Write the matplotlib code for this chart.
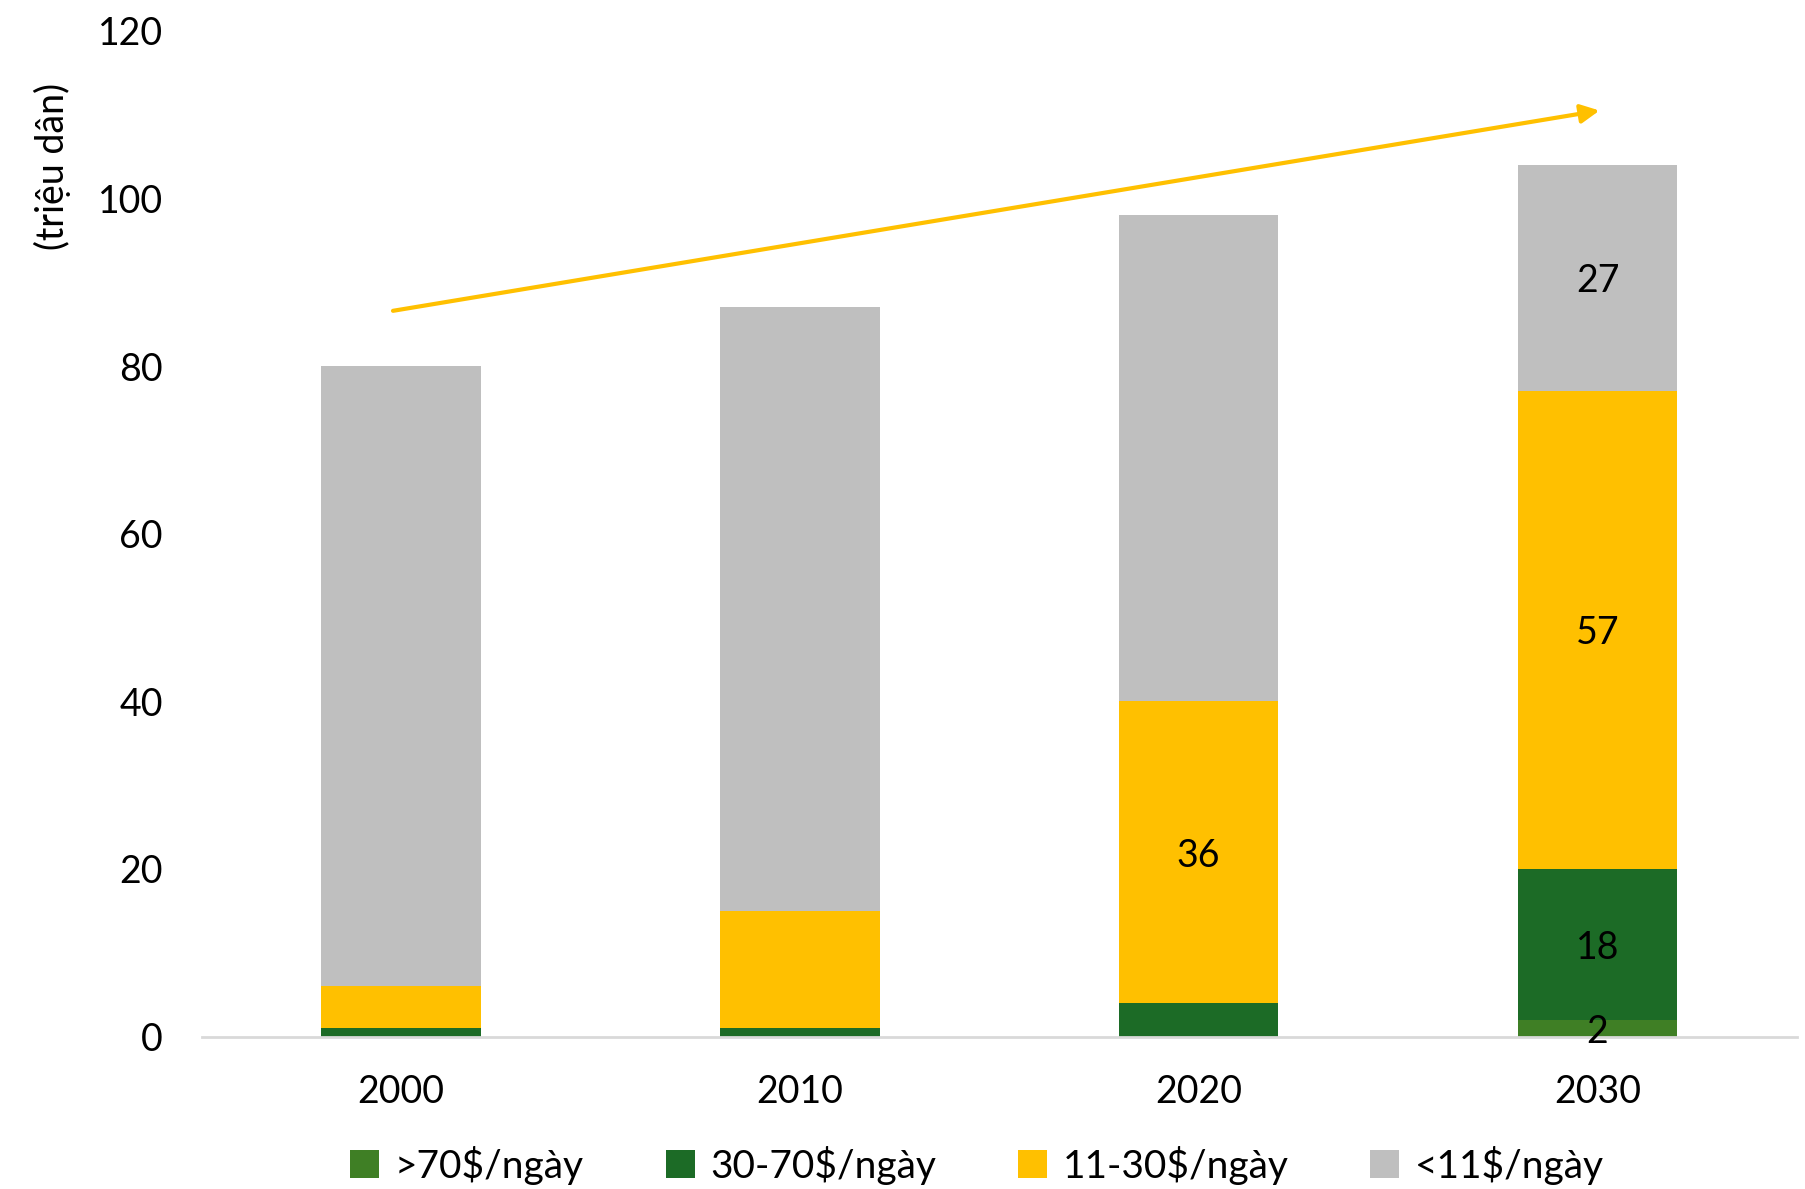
import matplotlib
matplotlib.use("Agg")
import matplotlib.pyplot as plt
from matplotlib.patches import Patch
import numpy as np

plt.rcParams['font.family'] = ['Lato', 'DejaVu Sans']

years = ["2000", "2010", "2020", "2030"]
series_names = [">70$/ngày", "30-70$/ngày", "11-30$/ngày", "<11$/ngày"]
above_70 = [0, 0, 0, 2]
from_30_to_70 = [1, 1, 4, 18]
from_11_to_30 = [5, 14, 36, 57]
below_11 = [74, 72, 58, 27]
colors = ["#3f7f25", "#1c6b26", "#ffc000", "#bfbfbf"]

# which segments carry a value label (only 2020 middle class and all of 2030)
label_mask = [
    [False, False, False, True],
    [False, False, False, True],
    [False, False, True, True],
    [False, False, False, True],
]

fig = plt.figure(figsize=(18.06, 11.89), dpi=100)
ax = fig.add_axes([0.1116, 0.1282, 0.8834, 0.8458])

x = np.arange(len(years))
width = 0.40
bottom = np.zeros(len(years))
series = [above_70, from_30_to_70, from_11_to_30, below_11]
for s_idx, (vals, col) in enumerate(zip(series, colors)):
    vals = np.array(vals, dtype=float)
    ax.bar(x, vals, width, bottom=bottom, color=col, edgecolor="none", zorder=2)
    for i in range(len(years)):
        if label_mask[s_idx][i] and vals[i] > 0:
            ax.text(x[i], bottom[i] + vals[i] / 2 - 0.4, f"{int(vals[i])}",
                    ha="center", va="center", fontsize=27, color="black", zorder=3)
    bottom += vals

# growth arrow over the totals
ax.annotate("", xy=(3.005, 110.5), xytext=(-0.02, 86.6),
            arrowprops=dict(arrowstyle="-|>", color="#ffc000", lw=3,
                            mutation_scale=28, shrinkA=0, shrinkB=0),
            zorder=4)

ax.set_xlim(-0.5, 3.5)
ax.set_ylim(0, 120)
ax.set_yticks(np.arange(0, 121, 20))
ax.set_xticks(x)
ax.set_xticklabels(years)
ax.tick_params(axis="both", length=0, labelsize=27)
ax.tick_params(axis="y", pad=28)
ax.tick_params(axis="x", pad=27)
for side in ["top", "right", "left"]:
    ax.spines[side].set_visible(False)
ax.spines["bottom"].set_color("#d9d9d9")
ax.spines["bottom"].set_linewidth(2)

fig.text(0.029, 0.86, "(triệu dân)", rotation=90, ha="center", va="center", fontsize=27)

handles = [Patch(facecolor=c, edgecolor="none") for c in colors]
fig.legend(handles, series_names, loc="center", bbox_to_anchor=(0.541, 0.02),
           ncol=4, frameon=False, fontsize=28, handlelength=0.75, handleheight=0.75,
           handletextpad=0.4, columnspacing=2.1)

fig.savefig("out.png", dpi=100)
